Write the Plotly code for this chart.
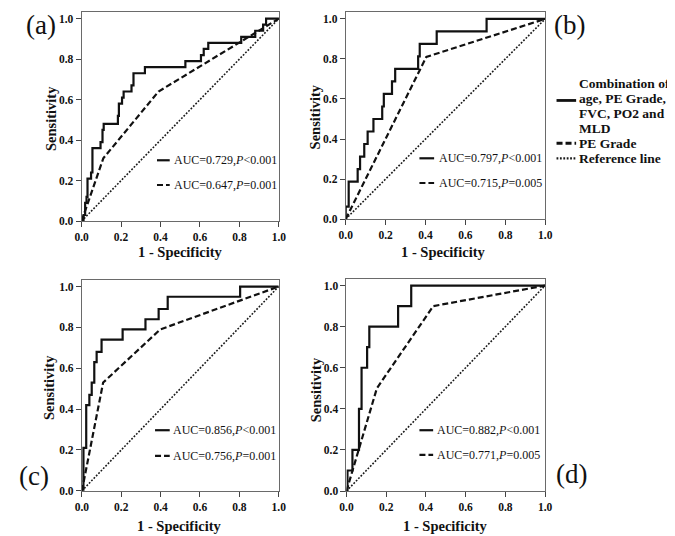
import plotly.graph_objects as go

W, H = 675, 536
SERIF = "Liberation Serif"

# ---------------- data ----------------
tick_vals = [0.0, 0.2, 0.4, 0.6, 0.8, 1.0]
ref_line = [0.0, 1.0]

# (a)
a_comb_fpr = [0, 0.010, 0.018, 0.025, 0.030, 0.048, 0.055, 0.096, 0.106, 0.112, 0.184, 0.189,
              0.205, 0.213, 0.253, 0.263, 0.321, 0.526, 0.605, 0.619, 0.642, 0.809, 0.880,
              0.920, 0.935, 1.0]
a_comb_tpr = [0, 0.03, 0.09, 0.12, 0.21, 0.24, 0.36, 0.39, 0.45, 0.48, 0.52, 0.58,
              0.61, 0.64, 0.67, 0.73, 0.76, 0.79, 0.82, 0.85, 0.88, 0.91, 0.94,
              0.97, 1.0, 1.0]
a_pe_fpr = [0, 0.11, 0.39, 1.0]
a_pe_tpr = [0, 0.31, 0.64, 1.0]
a_comb_label = "AUC=0.729,<i>P</i>&lt;0.001"
a_pe_label = "AUC=0.647,<i>P</i>=0.001"

# (b)
b_comb_fpr = [0, 0.0, 0.015, 0.060, 0.072, 0.093, 0.110, 0.139, 0.183, 0.191, 0.232, 0.248,
              0.363, 0.371, 0.456, 0.706, 1.0]
b_comb_tpr = [0, 0.0625, 0.1875, 0.25, 0.3125, 0.375, 0.4375, 0.5, 0.5625, 0.625, 0.6875, 0.75,
              0.8125, 0.875, 0.9375, 1.0, 1.0]
b_pe_fpr = [0, 0.404, 1.0]
b_pe_tpr = [0, 0.81, 1.0]
b_comb_label = "AUC=0.797,<i>P</i>&lt;0.001"
b_pe_label = "AUC=0.715,<i>P</i>=0.005"

# (c)
c_comb_fpr = [0, 0.008, 0.022, 0.038, 0.050, 0.063, 0.075, 0.100, 0.207, 0.323, 0.390, 0.436,
              0.804, 1.0]
c_comb_tpr = [0, 0.21, 0.42, 0.47, 0.53, 0.63, 0.68, 0.74, 0.79, 0.84, 0.89, 0.95,
              1.0, 1.0]
c_pe_fpr = [0, 0.108, 0.398, 1.0]
c_pe_tpr = [0, 0.53, 0.79, 1.0]
c_comb_label = "AUC=0.856,<i>P</i>&lt;0.001"
c_pe_label = "AUC=0.756,<i>P</i>=0.001"

# (d)
d_comb_fpr = [0, 0.005, 0.030, 0.063, 0.076, 0.104, 0.115, 0.260, 0.326, 1.0]
d_comb_tpr = [0, 0.1, 0.2, 0.4, 0.6, 0.7, 0.8, 0.9, 1.0, 1.0]
d_pe_fpr = [0, 0.153, 0.437, 1.0]
d_pe_tpr = [0, 0.50, 0.90, 1.0]
d_comb_label = "AUC=0.882,<i>P</i>&lt;0.001"
d_pe_label = "AUC=0.771,<i>P</i>=0.005"

panel_letters = ["(a)", "(b)", "(c)", "(d)"]
legend_comb_lines = ["Combination of", "age, PE Grade,", "FVC, PO2 and", "MLD"]
legend_pe = "PE Grade"
legend_ref = "Reference line"
x_title = "1 - Specificity"
y_title = "Sensitivity"

# ---------------- layout geometry (pixels) ----------------
YTOP = 1.033
panels = [
    dict(x0=68.0, x1=269.5, y0=215.5, y1=10.7,
         comb=(a_comb_fpr, a_comb_tpr), pe=(a_pe_fpr, a_pe_tpr),
         labels=(a_comb_label, a_pe_label),
         leg_x=(145, 158), leg_tx=160.5, leg_y=(154, 179),
         letter_xy=(27, 17), ytitle_xy=(36, 112), xtitle_xy=(169, 247)),
    dict(x0=337.7, x1=541.5, y0=213.5, y1=11.0,
         comb=(b_comb_fpr, b_comb_tpr), pe=(b_pe_fpr, b_pe_tpr),
         labels=(b_comb_label, b_pe_label),
         leg_x=(413, 428), leg_tx=430.5, leg_y=(152, 177),
         letter_xy=(566, 17), ytitle_xy=(306, 110), xtitle_xy=(438, 247)),
    dict(x0=68.3, x1=269.3, y0=488.3, y1=281.7,
         comb=(c_comb_fpr, c_comb_tpr), pe=(c_pe_fpr, c_pe_tpr),
         labels=(c_comb_label, c_pe_label),
         leg_x=(143, 158), leg_tx=159.5, leg_y=(427, 453),
         letter_xy=(19, 473), ytitle_xy=(34, 384), xtitle_xy=(168, 524)),
    dict(x0=338.5, x1=541.3, y0=488.5, y1=280.7,
         comb=(d_comb_fpr, d_comb_tpr), pe=(d_pe_fpr, d_pe_tpr),
         labels=(d_comb_label, d_pe_label),
         leg_x=(413, 427), leg_tx=429.0, leg_y=(427, 452),
         letter_xy=(568, 471), ytitle_xy=(307, 386), xtitle_xy=(440, 524)),
]


def px(x):
    return x / W


def py(y):
    return 1 - y / H


def bold_font(size):
    return dict(family=SERIF, size=size, color="#111111", weight="bold")


SOLID = dict(color="#111111", width=2.2)
DASH = dict(color="#111111", width=2.2, dash="6px,3px")
DOT = dict(color="#1a1a1a", width=1.6, dash="1.8px,1.6px")

fig = go.Figure()
annotations = []
shapes = []

for i, p in enumerate(panels):
    n = "" if i == 0 else str(i + 1)
    unit = p["y0"] - p["y1"]
    top_px = p["y0"] - YTOP * unit
    xd = [px(p["x0"]), px(p["x1"])]
    yd = [py(p["y0"]), py(top_px)]
    axis_common = dict(
        showgrid=False, zeroline=False, showline=True, mirror=True,
        linecolor="#6a6a6a", linewidth=1, ticks="outside", ticklen=5,
        tickwidth=1, tickcolor="#444444", tickvals=tick_vals, tickformat=".1f",
        tickfont=bold_font(11.5),
        fixedrange=True,
    )
    fig.update_layout(**{
        "xaxis" + n: dict(domain=xd, range=[0, 1], anchor="y" + n, **axis_common),
        "yaxis" + n: dict(domain=yd, range=[0, YTOP], anchor="x" + n, **axis_common),
    })
    xr, yr = "x" + n, "y" + n
    fig.add_trace(go.Scatter(x=ref_line, y=ref_line, mode="lines", line=DOT,
                             xaxis=xr, yaxis=yr, showlegend=False, hoverinfo="skip",
                             cliponaxis=False))
    fig.add_trace(go.Scatter(x=p["pe"][0], y=p["pe"][1], mode="lines", line=DASH,
                             xaxis=xr, yaxis=yr, showlegend=False, cliponaxis=False))
    fig.add_trace(go.Scatter(x=p["comb"][0], y=p["comb"][1], mode="lines",
                             line=dict(shape="hv", **SOLID),
                             xaxis=xr, yaxis=yr, showlegend=False, cliponaxis=False))

    # in-panel key
    for line_style, ly, txt in [(SOLID, p["leg_y"][0], p["labels"][0]),
                                (DASH, p["leg_y"][1], p["labels"][1])]:
        shapes.append(dict(type="line", xref="paper", yref="paper",
                           x0=px(p["leg_x"][0]), x1=px(p["leg_x"][1]),
                           y0=py(ly), y1=py(ly), line=line_style))
        annotations.append(dict(text=txt, xref="paper", yref="paper",
                                x=px(p["leg_tx"]), y=py(ly), xanchor="left",
                                yanchor="middle", showarrow=False,
                                font=dict(family=SERIF, size=12, color="#111111")))
    # axis titles
    annotations.append(dict(text=y_title, xref="paper", yref="paper",
                            x=px(p["ytitle_xy"][0]), y=py(p["ytitle_xy"][1]),
                            xanchor="center", yanchor="middle", textangle=-90,
                            showarrow=False, font=bold_font(14.5)))
    annotations.append(dict(text=x_title, xref="paper", yref="paper",
                            x=px(p["xtitle_xy"][0]), y=py(p["xtitle_xy"][1]),
                            xanchor="center", yanchor="middle", showarrow=False,
                            font=bold_font(14.5)))
    # panel letter
    annotations.append(dict(text=panel_letters[i], xref="paper", yref="paper",
                            x=px(p["letter_xy"][0]), y=py(p["letter_xy"][1]),
                            xanchor="center", yanchor="middle", showarrow=False,
                            font=dict(family=SERIF, size=27, color="#111111")))

# right-hand legend
LEG_FONT = bold_font(13.5)
leg_text_x = 575
comb_ys = [76.5, 91.5, 106.5, 121.5]
for t, ly in zip(legend_comb_lines, comb_ys):
    annotations.append(dict(text=t, xref="paper", yref="paper",
                            x=px(leg_text_x), y=py(ly), xanchor="left", yanchor="middle",
                            showarrow=False, font=LEG_FONT, borderpad=0))
annotations.append(dict(text=legend_pe, xref="paper", yref="paper",
                        x=px(leg_text_x), y=py(136.8), xanchor="left", yanchor="middle",
                        showarrow=False, font=LEG_FONT, borderpad=0))
annotations.append(dict(text=legend_ref, xref="paper", yref="paper",
                        x=px(leg_text_x), y=py(152.0), xanchor="left", yanchor="middle",
                        showarrow=False, font=LEG_FONT, borderpad=0))
for line_style, ly in [(SOLID, 93.5), (DASH, 136.8), (DOT, 152.0)]:
    shapes.append(dict(type="line", xref="paper", yref="paper",
                       x0=px(553), x1=px(573), y0=py(ly), y1=py(ly),
                       line=dict(line_style, width=line_style["width"] + 0.6)))

fig.update_layout(
    width=W, height=H, autosize=False,
    margin=dict(l=0, r=0, t=0, b=0),
    paper_bgcolor="white", plot_bgcolor="white",
    annotations=annotations, shapes=shapes,
    showlegend=False,
)

fig.write_html("out.html", config={"displayModeBar": False})
